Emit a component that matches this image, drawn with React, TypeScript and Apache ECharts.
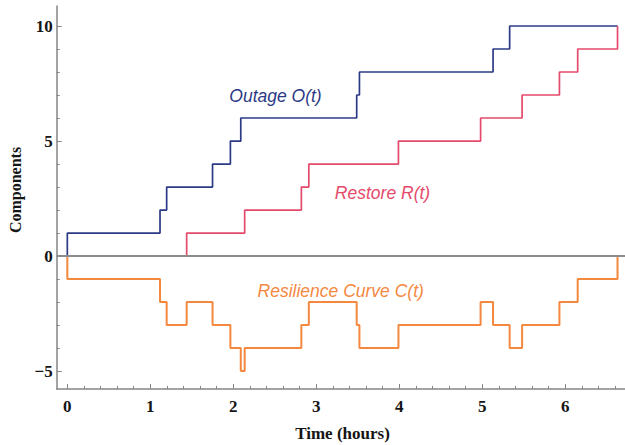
import React, { useEffect, useRef } from "react";
import * as echarts from "echarts";

// Outage O(t): [time (h), components]
const outageTimes = [0, 0, 1.117, 1.197, 1.75, 1.965, 2.09, 3.487, 3.52, 5.13, 5.33, 6.63];
const outageValues = [0, 1, 2, 3, 4, 5, 6, 7, 8, 9, 10, 10];

// Restore R(t)
const restoreTimes = [0, 1.438, 2.137, 2.82, 2.91, 3.99, 4.98, 5.48, 5.93, 6.15, 6.63];
const restoreValues = [0, 1, 2, 3, 4, 5, 6, 7, 8, 9, 10];

// Resilience Curve C(t)
const resilienceTimes = [0, 0, 1.117, 1.197, 1.438, 1.75, 1.965, 2.09, 2.137, 2.82, 2.91, 3.487, 3.52, 3.99, 4.98, 5.13, 5.33, 5.48, 5.93, 6.15, 6.63];
const resilienceValues = [0, -1, -2, -3, -2, -3, -4, -5, -4, -3, -2, -3, -4, -3, -2, -3, -4, -3, -2, -1, 0];

const xMajorTicks = [0, 1, 2, 3, 4, 5, 6];
const xMinorTicks = [0.2, 0.4, 0.6, 0.8, 1.2, 1.4, 1.6, 1.8, 2.2, 2.4, 2.6, 2.8, 3.2, 3.4, 3.6, 3.8, 4.2, 4.4, 4.6, 4.8, 5.2, 5.4, 5.6, 5.8, 6.2, 6.4, 6.6];
const yMajorTicks = [-5, 0, 5, 10];
const yMinorTicks = [-4, -3, -2, -1, 1, 2, 3, 4, 6, 7, 8, 9];

const NAVY = "#2c3a85";
const CRIMSON = "#e44a6c";
const ORANGE = "#f5883f";
const AXIS_GRAY = "#858585";

const zip = (xs: number[], ys: number[]) => xs.map((x, i) => [x, ys[i]]);

export default function App() {
  const ref = useRef<HTMLDivElement>(null);
  useEffect(() => {
    if (!ref.current) return;
    const chart = echarts.init(ref.current, undefined, { renderer: "svg" });
    const xMin = -0.128;
    const xMax = 6.72;
    const yMin = -5.78;
    const yMax = 10.87;
    const labelFont = {
      fontFamily: "Liberation Serif, Times New Roman, serif",
      fontWeight: "bold" as const,
      fontSize: 17,
      color: "#151515",
    };
    chart.setOption({
      animation: false,
      backgroundColor: "#ffffff",
      grid: { left: 56.7, right: 0, top: 6, bottom: 56, containLabel: false },
      xAxis: [
        {
          type: "value",
          min: xMin,
          max: xMax,
          position: "bottom",
          axisLine: { show: true, onZero: false, lineStyle: { color: AXIS_GRAY, width: 1.5 } },
          axisTick: { show: true, inside: true, length: 5, customValues: xMajorTicks, lineStyle: { color: AXIS_GRAY } },
          axisLabel: { show: true, customValues: xMajorTicks, margin: 9, ...labelFont },
          splitLine: { show: false },
        },
        {
          type: "value",
          min: xMin,
          max: xMax,
          position: "bottom",
          axisLine: { show: false, onZero: false },
          axisTick: { show: true, inside: true, length: 3, customValues: xMinorTicks, lineStyle: { color: AXIS_GRAY } },
          axisLabel: { show: false },
          splitLine: { show: false },
        },
      ],
      yAxis: [
        {
          type: "value",
          min: yMin,
          max: yMax,
          position: "left",
          axisLine: { show: true, onZero: false, lineStyle: { color: AXIS_GRAY, width: 1.5 } },
          axisTick: { show: true, inside: true, length: 5, customValues: yMajorTicks, lineStyle: { color: AXIS_GRAY } },
          axisLabel: {
            show: true,
            customValues: yMajorTicks,
            margin: 4,
            ...labelFont,
            formatter: (v: number) => (v < 0 ? "\u2212" + Math.abs(v) : String(v)),
          },
          splitLine: { show: false },
        },
        {
          type: "value",
          min: yMin,
          max: yMax,
          position: "left",
          offset: 0,
          axisLine: { show: false, onZero: false },
          axisTick: { show: true, inside: true, length: 3, customValues: yMinorTicks, lineStyle: { color: AXIS_GRAY } },
          axisLabel: { show: false },
          splitLine: { show: false },
        },
      ],
      graphic: [
        {
          type: "text",
          x: 15,
          y: 190,
          rotation: Math.PI / 2,
          style: {
            text: "Components",
            fontFamily: "Liberation Serif, Times New Roman, serif",
            fontWeight: "bold",
            fontSize: 16,
            fill: "#151515",
            align: "center",
            verticalAlign: "middle",
          },
        },
        {
          type: "text",
          x: 342.5,
          y: 433,
          style: {
            text: "Time (hours)",
            fontFamily: "Liberation Serif, Times New Roman, serif",
            fontWeight: "bold",
            fontSize: 17,
            fill: "#151515",
            align: "center",
            verticalAlign: "middle",
          },
        },
        {
          type: "text",
          x: 275.5,
          y: 96,
          style: {
            text: "Outage O(t)",
            fontFamily: "Liberation Sans, Arial, sans-serif",
            fontStyle: "italic",
            fontSize: 17.5,
            fill: NAVY,
            align: "center",
            verticalAlign: "middle",
          },
        },
        {
          type: "text",
          x: 382.5,
          y: 192.5,
          style: {
            text: "Restore R(t)",
            fontFamily: "Liberation Sans, Arial, sans-serif",
            fontStyle: "italic",
            fontSize: 17.5,
            fill: CRIMSON,
            align: "center",
            verticalAlign: "middle",
          },
        },
        {
          type: "text",
          x: 340.7,
          y: 290.5,
          style: {
            text: "Resilience Curve C(t)",
            fontFamily: "Liberation Sans, Arial, sans-serif",
            fontStyle: "italic",
            fontSize: 17.5,
            fill: ORANGE,
            align: "center",
            verticalAlign: "middle",
          },
        },
      ],
      series: [
        {
          name: "zero",
          type: "line",
          data: [],
          z: 1,
          silent: true,
          markLine: {
            silent: true,
            symbol: "none",
            label: { show: false },
            lineStyle: { color: "#8c8c8c", width: 1.8, type: "solid" },
            data: [{ yAxis: 0 }],
          },
        },
        {
          name: "Resilience Curve C(t)",
          type: "line",
          step: "end",
          z: 3,
          showSymbol: false,
          symbol: "none",
          lineStyle: { color: ORANGE, width: 2 },
          data: zip(resilienceTimes, resilienceValues),
        },
        {
          name: "Outage O(t)",
          type: "line",
          step: "end",
          z: 3,
          showSymbol: false,
          symbol: "none",
          lineStyle: { color: NAVY, width: 1.7 },
          data: zip(outageTimes, outageValues),
        },
        {
          name: "Restore R(t)",
          type: "line",
          step: "end",
          z: 4,
          showSymbol: false,
          symbol: "none",
          lineStyle: { color: CRIMSON, width: 1.7 },
          data: zip(restoreTimes, restoreValues),
        },
      ],
    });
    return () => chart.dispose();
  }, []);
  return <div ref={ref} style={{ width: 625, height: 445, position: "absolute", left: 0, top: 0 }} />;
}
